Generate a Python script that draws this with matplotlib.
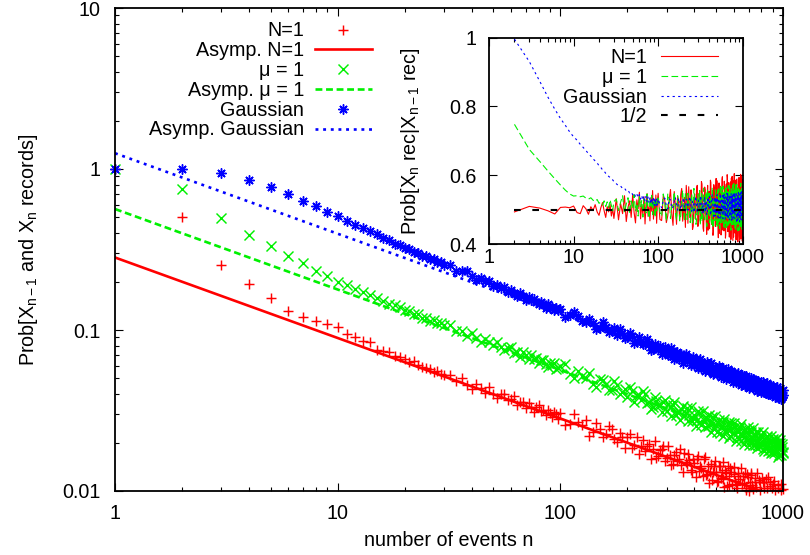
import numpy as np
import matplotlib
matplotlib.use("Agg")
import matplotlib.pyplot as plt
from matplotlib import ticker

plt.rcParams['font.family'] = ['Liberation Sans', 'DejaVu Sans']
plt.rcParams['mathtext.fontset'] = 'custom'
plt.rcParams['mathtext.rm'] = 'Liberation Sans'
plt.rcParams['mathtext.it'] = 'Liberation Sans:italic'
plt.rcParams['mathtext.default'] = 'rm'

# ---------------- data ----------------
N_EVENTS = list(range(1, 31)) + list(range(32, 100, 2)) + list(range(100, 1001, 10))
N_EXTRA = list(range(105, 1000, 10))

RED_N1 = [
    1.0, 0.50, 0.253, 0.193, 0.157, 0.131, 0.121, 0.113, 0.109, 0.105,
    0.094, 0.091, 0.086, 0.084, 0.075, 0.074, 0.073, 0.069, 0.068, 0.066,
    0.0635, 0.064, 0.0605, 0.059, 0.058, 0.0575, 0.055, 0.0555, 0.0535, 0.0528,
    0.0524, 0.0479, 0.0503, 0.0458, 0.0433, 0.0461, 0.0438, 0.0408, 0.0440, 0.0403,
    0.0376, 0.0399, 0.0403, 0.0367, 0.0371, 0.0391, 0.0342, 0.0358, 0.0359, 0.0330,
    0.0352, 0.0331, 0.0311, 0.0332, 0.0341, 0.0312, 0.0317, 0.0295, 0.0319, 0.0303,
    0.0288, 0.0311, 0.0299, 0.0282,
    0.0307, 0.0261, 0.0268, 0.0275, 0.0234, 0.0244, 0.0225, 0.0242, 0.0202, 0.0215,
    0.0215, 0.0185, 0.0215, 0.0190, 0.0177, 0.0196, 0.0182, 0.0160, 0.0180, 0.0189,
    0.0161, 0.0168, 0.0148, 0.0174, 0.0158, 0.0145, 0.0171, 0.0147, 0.0156, 0.0131,
    0.0150, 0.0157, 0.0134, 0.0139, 0.0157, 0.0125, 0.0143, 0.0131, 0.0117, 0.0142,
    0.0131, 0.0116, 0.0143, 0.0131, 0.0119, 0.0135, 0.0107, 0.0124, 0.0139, 0.0111,
    0.0127, 0.0115, 0.0104, 0.0129, 0.0118, 0.00984, 0.0124, 0.0112, 0.0105, 0.0127,
    0.0100, 0.0114, 0.0126, 0.0103, 0.00933, 0.0114, 0.0106, 0.00946, 0.0117, 0.0102,
    0.00877, 0.0113, 0.0104, 0.0093, 0.0118, 0.00968, 0.00875, 0.0107, 0.00999, 0.00918,
    0.0111, 0.00832, 0.0101, 0.00953, 0.00865, 0.0105, 0.00901, 0.00788, 0.0102, 0.00951,
    0.00901,
]
RED_N1_EXTRA = [
    0.0256, 0.0300, 0.0258, 0.0221, 0.0263, 0.0215, 0.0255, 0.0209, 0.0228, 0.0186,
    0.0227, 0.0193, 0.0169, 0.0208, 0.0191, 0.0157, 0.0203, 0.0165, 0.0182, 0.0153,
    0.0191, 0.0145, 0.0167, 0.0153, 0.0182, 0.0132, 0.0152, 0.0169, 0.0135, 0.0158,
    0.0122, 0.0165, 0.0144, 0.0124, 0.0163, 0.0128, 0.0112, 0.0148, 0.0132, 0.0154,
    0.0113, 0.0144, 0.0121, 0.0151, 0.0106, 0.0129, 0.0142, 0.0109, 0.0132, 0.00983,
    0.0140, 0.0109, 0.0124, 0.00974, 0.0139, 0.0111, 0.00996, 0.0129, 0.0102, 0.0122,
    0.00914, 0.0130, 0.0109, 0.00937, 0.0121, 0.00996, 0.0129, 0.00892, 0.0113, 0.00991,
    0.0120, 0.00919, 0.0113, 0.0083, 0.0105, 0.0123, 0.00921, 0.0113, 0.00845, 0.0104,
    0.00882, 0.0116, 0.00937, 0.00803, 0.0109, 0.00968, 0.00817, 0.0111, 0.00881, 0.0103,
]

GREEN_MU1 = [
    1.0, 0.751, 0.496, 0.389, 0.334, 0.290, 0.261, 0.234, 0.216, 0.200,
    0.189, 0.179, 0.171, 0.164, 0.157, 0.152, 0.146, 0.142, 0.138, 0.134,
    0.131, 0.126, 0.125, 0.119, 0.119, 0.114, 0.115, 0.110, 0.111, 0.107,
    0.1067, 0.0987, 0.0987, 0.0915, 0.0963, 0.0897, 0.0842, 0.0882, 0.0847, 0.0806,
    0.0837, 0.0783, 0.0746, 0.0778, 0.0787, 0.0724, 0.0733, 0.0681, 0.0725, 0.0695,
    0.0665, 0.0702, 0.0660, 0.0671, 0.0624, 0.0648, 0.0653, 0.0614, 0.0589, 0.0625,
    0.0606, 0.0623, 0.0576, 0.0581,
    0.0598, 0.0533, 0.0556, 0.0505, 0.0462, 0.0493, 0.0459, 0.0424, 0.0458, 0.0413,
    0.0383, 0.0417, 0.0392, 0.0368, 0.0401, 0.0357, 0.0333, 0.0364, 0.0344, 0.0358,
    0.0316, 0.0333, 0.0344, 0.0295, 0.0309, 0.0323, 0.0291, 0.0326, 0.0298, 0.0274,
    0.0296, 0.0276, 0.0303, 0.0256, 0.0277, 0.0287, 0.0255, 0.0263, 0.0289, 0.0242,
    0.0257, 0.0267, 0.0230, 0.0255, 0.0267, 0.0236, 0.0241, 0.0267, 0.0220, 0.0246,
    0.0228, 0.0249, 0.0215, 0.0232, 0.0248, 0.0204, 0.0231, 0.0218, 0.0234, 0.0206,
    0.0239, 0.0205, 0.0217, 0.0194, 0.0222, 0.0208, 0.0233, 0.0193, 0.0210, 0.0199,
    0.0217, 0.0182, 0.0209, 0.0200, 0.0187, 0.0217, 0.0190, 0.0201, 0.0173, 0.0204,
    0.0190, 0.0178, 0.0206, 0.0191, 0.0178, 0.0196, 0.0167, 0.0199, 0.0180, 0.0187,
    0.0175,
]
GREEN_MU1_EXTRA = [
    0.0612, 0.0500, 0.0520, 0.0544, 0.0441, 0.0490, 0.0426, 0.0482, 0.0398, 0.0428,
    0.0442, 0.0358, 0.0395, 0.0420, 0.0353, 0.0325, 0.0381, 0.0344, 0.0311, 0.0368,
    0.0346, 0.0293, 0.0357, 0.0308, 0.0276, 0.0336, 0.0307, 0.0271, 0.0331, 0.0284,
    0.0255, 0.0313, 0.0268, 0.0314, 0.0249, 0.0280, 0.0298, 0.0233, 0.0264, 0.0292,
    0.0231, 0.0276, 0.0249, 0.0220, 0.0280, 0.0232, 0.0259, 0.0214, 0.0266, 0.0229,
    0.0264, 0.0205, 0.0239, 0.0213, 0.0260, 0.0220, 0.0195, 0.0243, 0.0209, 0.0248,
    0.0193, 0.0232, 0.0203, 0.0246, 0.0192, 0.0222, 0.0184, 0.0233, 0.0189, 0.0224,
    0.0193, 0.0231, 0.0177, 0.0213, 0.0219, 0.0176, 0.0203, 0.0181, 0.0220, 0.0175,
    0.0210, 0.0172, 0.0199, 0.0212, 0.0163, 0.0190, 0.0207, 0.0168, 0.0196, 0.0172,
]

BLUE_GAUSS = [
    1.0, 1.0, 0.944, 0.859, 0.769, 0.700, 0.636, 0.586, 0.543, 0.508,
    0.478, 0.452, 0.430, 0.410, 0.394, 0.374, 0.362, 0.344, 0.337, 0.322,
    0.318, 0.305, 0.302, 0.290, 0.288, 0.277, 0.275, 0.265, 0.264, 0.254,
    0.252, 0.234, 0.2335, 0.231, 0.216, 0.2056, 0.2106, 0.2014, 0.2022, 0.1876,
    0.1893, 0.1817, 0.1853, 0.1711, 0.1766, 0.170, 0.1637, 0.1691, 0.163, 0.154,
    0.1595, 0.1526, 0.1566, 0.1498, 0.1448, 0.1488, 0.1454, 0.1379, 0.1447, 0.1374,
    0.1388, 0.1330, 0.1370, 0.1329,
    0.1341, 0.1231, 0.1213, 0.1121, 0.1112, 0.1034, 0.1050, 0.0990, 0.0934, 0.0955,
    0.0904, 0.0917, 0.0837, 0.0859, 0.0817, 0.0832, 0.0762, 0.0786, 0.0794, 0.0736,
    0.0753, 0.0698, 0.0736, 0.0697, 0.0659, 0.0710, 0.0674, 0.0645, 0.0669, 0.0635,
    0.0608, 0.0650, 0.0618, 0.0580, 0.0621, 0.0591, 0.0619, 0.0567, 0.0583, 0.0538,
    0.0583, 0.0549, 0.0583, 0.0528, 0.0545, 0.0561, 0.0508, 0.0541, 0.0515, 0.0547,
    0.0496, 0.0518, 0.0528, 0.0474, 0.0495, 0.0511, 0.0478, 0.0518, 0.0461, 0.0482,
    0.0497, 0.0456, 0.0481, 0.0436, 0.0488, 0.0458, 0.0446, 0.0470, 0.0426, 0.0455,
    0.0474, 0.0423, 0.0442, 0.0452, 0.0406, 0.0443, 0.0423, 0.0450, 0.0410, 0.0420,
    0.0397, 0.0436, 0.0421, 0.0395, 0.0433, 0.0403, 0.0380, 0.0414, 0.0404, 0.0386,
    0.0396,
]
BLUE_GAUSS_EXTRA = [
    0.1212, 0.1287, 0.1133, 0.1176, 0.1020, 0.1118, 0.0976, 0.1024, 0.1014, 0.0889,
    0.0954, 0.0829, 0.0903, 0.0818, 0.0873, 0.0754, 0.0824, 0.0763, 0.0713, 0.0788,
    0.0696, 0.0770, 0.0661, 0.0733, 0.0688, 0.0625, 0.0709, 0.0667, 0.0607, 0.0681,
    0.0660, 0.0578, 0.0657, 0.0613, 0.0553, 0.0629, 0.0558, 0.0621, 0.0535, 0.0592,
    0.0530, 0.0596, 0.0509, 0.0580, 0.0537, 0.0495, 0.0569, 0.0502, 0.0554, 0.0478,
    0.0540, 0.0475, 0.0541, 0.0502, 0.0454, 0.0524, 0.0471, 0.0449, 0.0517, 0.0466,
    0.0439, 0.0502, 0.0442, 0.0499, 0.0445, 0.0479, 0.0417, 0.0482, 0.0447, 0.0413,
    0.0433, 0.0474, 0.0410, 0.0421, 0.0466, 0.0399, 0.0452, 0.0403, 0.0451, 0.0394,
    0.0446, 0.0398, 0.0383, 0.0443, 0.0387, 0.0418, 0.0436, 0.0373, 0.0383, 0.0421,
]

# asymptotic power laws (straight lines in log-log), end points
ASYMP_N = [1, 1000]
ASYMP_N1 = [0.2821, 0.00892]
ASYMP_MU1 = [0.5642, 0.01784]
ASYMP_GAUSS = [1.2533, 0.03963]

# inset: conditional probability, n = 2 ... 1000
INSET_N = N_EVENTS[1:]
INSET_N_EXTRA = N_EXTRA

INSET_RED = [
    0.494, 0.510, 0.505, 0.497, 0.488, 0.507, 0.508, 0.506, 0.511, 0.492,
    0.489, 0.512, 0.503, 0.487, 0.509, 0.498, 0.515, 0.494, 0.484, 0.506,
    0.521, 0.497, 0.478, 0.509, 0.494, 0.516, 0.482, 0.503, 0.475,
    0.532, 0.471, 0.518, 0.489, 0.541, 0.466, 0.507, 0.526, 0.478, 0.545,
    0.492, 0.462, 0.529, 0.503, 0.551, 0.474, 0.515, 0.486, 0.538, 0.459,
    0.521, 0.547, 0.481, 0.509, 0.468, 0.535, 0.496, 0.556, 0.473, 0.512,
    0.487, 0.543, 0.461, 0.524,
    0.548, 0.469, 0.527, 0.483, 0.559, 0.455, 0.515, 0.538, 0.472, 0.562,
    0.491, 0.449, 0.533, 0.567, 0.478, 0.523, 0.452, 0.546, 0.501, 0.571,
    0.463, 0.529, 0.486, 0.575, 0.447, 0.512, 0.558, 0.469, 0.537, 0.441,
    0.553, 0.494, 0.579, 0.458, 0.521, 0.436, 0.564, 0.483, 0.542, 0.461,
    0.584, 0.472, 0.531, 0.432, 0.556, 0.497, 0.445, 0.588, 0.476, 0.527,
    0.439, 0.561, 0.505, 0.428, 0.575, 0.466, 0.593, 0.482, 0.437, 0.548,
    0.512, 0.425, 0.581, 0.459, 0.536, 0.597, 0.443, 0.519, 0.421, 0.569,
    0.488, 0.552, 0.434, 0.586, 0.471, 0.418, 0.563, 0.503, 0.441, 0.591,
    0.456, 0.528, 0.412, 0.574, 0.494, 0.431, 0.598, 0.467, 0.545, 0.409,
    0.527,
]
INSET_RED_EXTRA = [
    0.472, 0.541, 0.463, 0.528, 0.489, 0.553, 0.458, 0.519, 0.544, 0.467,
    0.536, 0.571, 0.461, 0.498, 0.558, 0.443, 0.525, 0.474, 0.563, 0.452,
    0.548, 0.469, 0.582, 0.503, 0.438, 0.566, 0.487, 0.429, 0.571, 0.512,
    0.445, 0.586, 0.477, 0.539, 0.426, 0.573, 0.496, 0.452, 0.591, 0.468,
    0.532, 0.419, 0.578, 0.485, 0.561, 0.427, 0.547, 0.596, 0.441, 0.509,
    0.583, 0.453, 0.418, 0.567, 0.492, 0.602, 0.437, 0.526, 0.579, 0.421,
    0.557, 0.488, 0.414, 0.592, 0.449, 0.524, 0.411, 0.585, 0.478, 0.605,
    0.433, 0.571, 0.496, 0.413, 0.589, 0.458, 0.541, 0.407, 0.582, 0.469,
    0.594, 0.424, 0.562, 0.483, 0.603, 0.416, 0.539, 0.577, 0.438, 0.588,
]

INSET_GREEN = [
    0.748, 0.675, 0.640, 0.612, 0.590, 0.572, 0.557, 0.546, 0.540, 0.541,
    0.538, 0.540, 0.534, 0.531, 0.535, 0.528, 0.524, 0.530, 0.519, 0.522,
    0.514, 0.526, 0.510, 0.523, 0.507, 0.529, 0.512, 0.497, 0.524,
    0.531, 0.498, 0.522, 0.541, 0.493, 0.517, 0.535, 0.488, 0.526, 0.503,
    0.544, 0.496, 0.519, 0.482, 0.538, 0.509, 0.527, 0.479, 0.532, 0.514,
    0.491, 0.546, 0.505, 0.476, 0.529, 0.511, 0.542, 0.486, 0.518, 0.533,
    0.478, 0.524, 0.497, 0.539,
    0.536, 0.481, 0.522, 0.547, 0.475, 0.514, 0.491, 0.541, 0.468, 0.529,
    0.503, 0.552, 0.472, 0.518, 0.463, 0.545, 0.496, 0.531, 0.458, 0.539,
    0.486, 0.556, 0.512, 0.466, 0.543, 0.478, 0.527, 0.553, 0.461, 0.509,
    0.548, 0.474, 0.521, 0.456, 0.559, 0.493, 0.535, 0.469, 0.546, 0.483,
    0.517, 0.452, 0.561, 0.499, 0.471, 0.544, 0.487, 0.565, 0.462, 0.526,
    0.491, 0.553, 0.448, 0.532, 0.566, 0.476, 0.512, 0.455, 0.549, 0.497,
    0.569, 0.463, 0.524, 0.446, 0.541, 0.503, 0.572, 0.468, 0.531, 0.451,
    0.557, 0.485, 0.538, 0.443, 0.519, 0.574, 0.472, 0.528, 0.449, 0.562,
    0.494, 0.441, 0.551, 0.515, 0.467, 0.577, 0.483, 0.536, 0.444, 0.558,
    0.506,
]
INSET_GREEN_EXTRA = [
    0.493, 0.546, 0.467, 0.531, 0.509, 0.552, 0.471, 0.525, 0.483, 0.557,
    0.466, 0.527, 0.548, 0.481, 0.534, 0.459, 0.562, 0.502, 0.473, 0.544,
    0.529, 0.456, 0.548, 0.497, 0.563, 0.471, 0.518, 0.452, 0.557, 0.489,
    0.463, 0.541, 0.498, 0.565, 0.447, 0.529, 0.474, 0.558, 0.501, 0.449,
    0.563, 0.488, 0.521, 0.446, 0.573, 0.462, 0.538, 0.481, 0.569, 0.451,
    0.529, 0.474, 0.561, 0.503, 0.444, 0.558, 0.486, 0.571, 0.459, 0.535,
    0.482, 0.551, 0.441, 0.566, 0.493, 0.457, 0.543, 0.489, 0.576, 0.462,
    0.518, 0.447, 0.572, 0.493, 0.554, 0.461, 0.537, 0.439, 0.568, 0.484,
    0.559, 0.467, 0.529, 0.446, 0.571, 0.491, 0.452, 0.563, 0.478, 0.542,
]

INSET_BLUE = [
    0.995, 0.930, 0.872, 0.826, 0.792, 0.765, 0.745, 0.726, 0.712, 0.702,
    0.690, 0.681, 0.672, 0.663, 0.656, 0.648, 0.642, 0.636, 0.628, 0.623,
    0.616, 0.612, 0.606, 0.603, 0.597, 0.594, 0.589, 0.587, 0.582,
    0.576, 0.570, 0.569, 0.562, 0.563, 0.555, 0.557, 0.549, 0.552, 0.544,
    0.549, 0.538, 0.546, 0.535, 0.544, 0.531, 0.542, 0.528, 0.540, 0.525,
    0.539, 0.522, 0.537, 0.520, 0.536, 0.517, 0.535, 0.516, 0.533, 0.513,
    0.534, 0.511, 0.531, 0.512,
    0.531, 0.506, 0.534, 0.503, 0.529, 0.508, 0.536, 0.499, 0.527, 0.510,
    0.535, 0.497, 0.526, 0.512, 0.538, 0.494, 0.524, 0.505, 0.539, 0.491,
    0.529, 0.509, 0.541, 0.489, 0.521, 0.534, 0.493, 0.527, 0.486, 0.537,
    0.502, 0.531, 0.484, 0.525, 0.543, 0.490, 0.519, 0.482, 0.536, 0.505,
    0.544, 0.479, 0.522, 0.497, 0.539, 0.476, 0.528, 0.511, 0.481, 0.546,
    0.493, 0.527, 0.473, 0.538, 0.502, 0.548, 0.478, 0.520, 0.486, 0.541,
    0.471, 0.532, 0.499, 0.549, 0.475, 0.516, 0.543, 0.469, 0.528, 0.490,
    0.551, 0.474, 0.522, 0.496, 0.546, 0.467, 0.533, 0.505, 0.472, 0.550,
    0.483, 0.539, 0.465, 0.525, 0.548, 0.478, 0.512, 0.553, 0.470, 0.536,
    0.497,
]
INSET_BLUE_EXTRA = [
    0.516, 0.528, 0.511, 0.532, 0.504, 0.525, 0.512, 0.534, 0.502, 0.521,
    0.508, 0.531, 0.499, 0.535, 0.507, 0.527, 0.492, 0.533, 0.511, 0.523,
    0.497, 0.536, 0.503, 0.519, 0.490, 0.538, 0.508, 0.485, 0.531, 0.515,
    0.539, 0.489, 0.521, 0.544, 0.496, 0.481, 0.537, 0.512, 0.486, 0.542,
    0.491, 0.533, 0.476, 0.518, 0.547, 0.489, 0.503, 0.541, 0.474, 0.528,
    0.547, 0.484, 0.519, 0.478, 0.535, 0.494, 0.549, 0.472, 0.531, 0.501,
    0.544, 0.481, 0.522, 0.468, 0.539, 0.496, 0.474, 0.551, 0.487, 0.534,
    0.476, 0.541, 0.499, 0.552, 0.483, 0.521, 0.469, 0.545, 0.492, 0.518,
    0.546, 0.473, 0.534, 0.488, 0.471, 0.552, 0.496, 0.479, 0.544, 0.509,
]

HALF_N = [2, 1000]
HALF_V = [0.5, 0.5]

# ---------------- style ----------------
RED, GREEN, BLUE = '#ff0000', '#00f000', '#0000ff'
FS = 14.2
W, H = 810, 555
YMIN, YMAX = 0.01, 10

fig = plt.figure(figsize=(W / 100, H / 100), dpi=100)


def px_axes(l, t, r, b):
    return [l / W, 1 - b / H, (r - l) / W, (b - t) / H]


def style_axes(ax, fs, xpad, ypad):
    for s in ax.spines.values():
        s.set_linewidth(1.3)
    ax.tick_params(which='both', direction='in', top=True, right=True,
                   width=0.8, labelsize=fs)
    ax.tick_params(which='major', length=5.8)
    ax.tick_params(which='minor', length=3.0)
    ax.tick_params(axis='x', pad=xpad)
    ax.tick_params(axis='y', pad=ypad)


def gfmt(v, p):
    return f'{v:g}'


def merged(n_a, v_a, n_b, v_b):
    n_all = np.concatenate([np.asarray(n_a, float), np.asarray(n_b, float)])
    v_all = np.concatenate([np.asarray(v_a, float), np.asarray(v_b, float)])
    order = np.argsort(n_all, kind='stable')
    return n_all[order], v_all[order]


def visible(v):
    v = np.asarray(v, dtype=float)
    return np.where((v >= YMIN) & (v <= YMAX), v, np.nan)


# ---------------- main axes ----------------
ax = fig.add_axes(px_axes(115, 8, 783, 491))
ax.set_xscale('log')
ax.set_yscale('log')
ax.set_xlim(1, 1000)
ax.set_ylim(YMIN, YMAX)

ms = 7.2
nr, vr = merged(N_EVENTS, RED_N1, N_EXTRA, RED_N1_EXTRA)
ng, vg = merged(N_EVENTS, GREEN_MU1, N_EXTRA, GREEN_MU1_EXTRA)
nb, vb = merged(N_EVENTS, BLUE_GAUSS, N_EXTRA, BLUE_GAUSS_EXTRA)

ax.plot(nr, visible(vr), linestyle='none', marker='+', ms=ms, mew=1.05,
        color=RED, clip_on=False, label='N=1')
ax.plot(ASYMP_N, ASYMP_N1, '-', color=RED, lw=1.9, label='Asymp. N=1')
ax.plot(ng, visible(vg), linestyle='none', marker='x', ms=ms * 0.95, mew=1.05,
        color=GREEN, clip_on=False, label='\u03bc = 1')
ax.plot(ASYMP_N, ASYMP_MU1, '--', color=GREEN, lw=1.9, dashes=(2.6, 1.4),
        label='Asymp. \u03bc = 1')
ax.plot(nb, visible(vb), linestyle='none', marker=(8, 2, 0), ms=ms, mew=1.05,
        color=BLUE, clip_on=False, label='Gaussian')
ax.plot(ASYMP_N, ASYMP_GAUSS, ':', color=BLUE, lw=1.9, dashes=(1.1, 1.8),
        label='Asymp. Gaussian')

ax.xaxis.set_major_locator(ticker.LogLocator(base=10, numticks=10))
ax.xaxis.set_minor_locator(ticker.LogLocator(base=10, subs=np.arange(2, 10), numticks=20))
ax.yaxis.set_major_locator(ticker.LogLocator(base=10, numticks=10))
ax.yaxis.set_minor_locator(ticker.LogLocator(base=10, subs=np.arange(2, 10), numticks=20))
ax.xaxis.set_major_formatter(ticker.FuncFormatter(gfmt))
ax.yaxis.set_major_formatter(ticker.FuncFormatter(gfmt))
ax.xaxis.set_minor_formatter(ticker.NullFormatter())
ax.yaxis.set_minor_formatter(ticker.NullFormatter())
style_axes(ax, FS, 9.5, 10.5)

ax.set_xlabel('number of events n', fontsize=FS)
ax.xaxis.set_label_coords(0.5, -0.083)
ax.set_ylabel('Prob[X$_{n-1}$ and X$_{n}$ records]', fontsize=FS)
ax.yaxis.set_label_coords(-0.112, 0.5)

ax.legend(loc='upper right', bbox_to_anchor=(372 / W, 1 - 21.5 / H),
          bbox_transform=fig.transFigure, frameon=False, markerfirst=False,
          fontsize=FS, handlelength=2.9, handletextpad=0.55,
          labelspacing=0.04, borderpad=0, borderaxespad=0, numpoints=1)

# ---------------- inset ----------------
ai = fig.add_axes(px_axes(489, 37.5, 742.7, 244.3))
ai.set_xscale('log')
ai.set_xlim(1, 1000)
ai.set_ylim(0.4, 1.0)

n1, r1 = merged(INSET_N, INSET_RED, INSET_N_EXTRA, INSET_RED_EXTRA)
n2, g2 = merged(INSET_N, INSET_GREEN, INSET_N_EXTRA, INSET_GREEN_EXTRA)
n3, b3 = merged(INSET_N, INSET_BLUE, INSET_N_EXTRA, INSET_BLUE_EXTRA)
ai.plot(n1, r1, '-', color=RED, lw=0.8, label='N=1')
ai.plot(n2, g2, '--', color=GREEN, lw=0.8, dashes=(6.0, 3.0), label='\u03bc = 1')
ai.plot(n3, b3, ':', color=BLUE, lw=0.8, dashes=(2.0, 3.0), label='Gaussian')
ai.plot(HALF_N, HALF_V, '--', color='black', lw=1.5, dashes=(3.2, 5.6), label='1/2')

ai.xaxis.set_major_locator(ticker.LogLocator(base=10, numticks=10))
ai.xaxis.set_minor_locator(ticker.LogLocator(base=10, subs=np.arange(2, 10), numticks=20))
ai.xaxis.set_major_formatter(ticker.FuncFormatter(gfmt))
ai.xaxis.set_minor_formatter(ticker.NullFormatter())
ai.yaxis.set_major_locator(ticker.FixedLocator([0.4, 0.6, 0.8, 1.0]))
ai.yaxis.set_major_formatter(ticker.FuncFormatter(gfmt))
style_axes(ai, FS, 3.0, 9.0)

ai.set_ylabel('Prob[X$_{n}$ rec|X$_{n-1}$ rec]', fontsize=FS)
ai.yaxis.set_label_coords(-0.265, 0.5)

ai.legend(loc='upper right', bbox_to_anchor=(718 / W, 1 - 48.0 / H),
          bbox_transform=fig.transFigure, frameon=False, markerfirst=False,
          fontsize=FS, handlelength=2.9, handletextpad=0.7,
          labelspacing=0.04, borderpad=0, borderaxespad=0)

fig.savefig('out.png', dpi=100)
